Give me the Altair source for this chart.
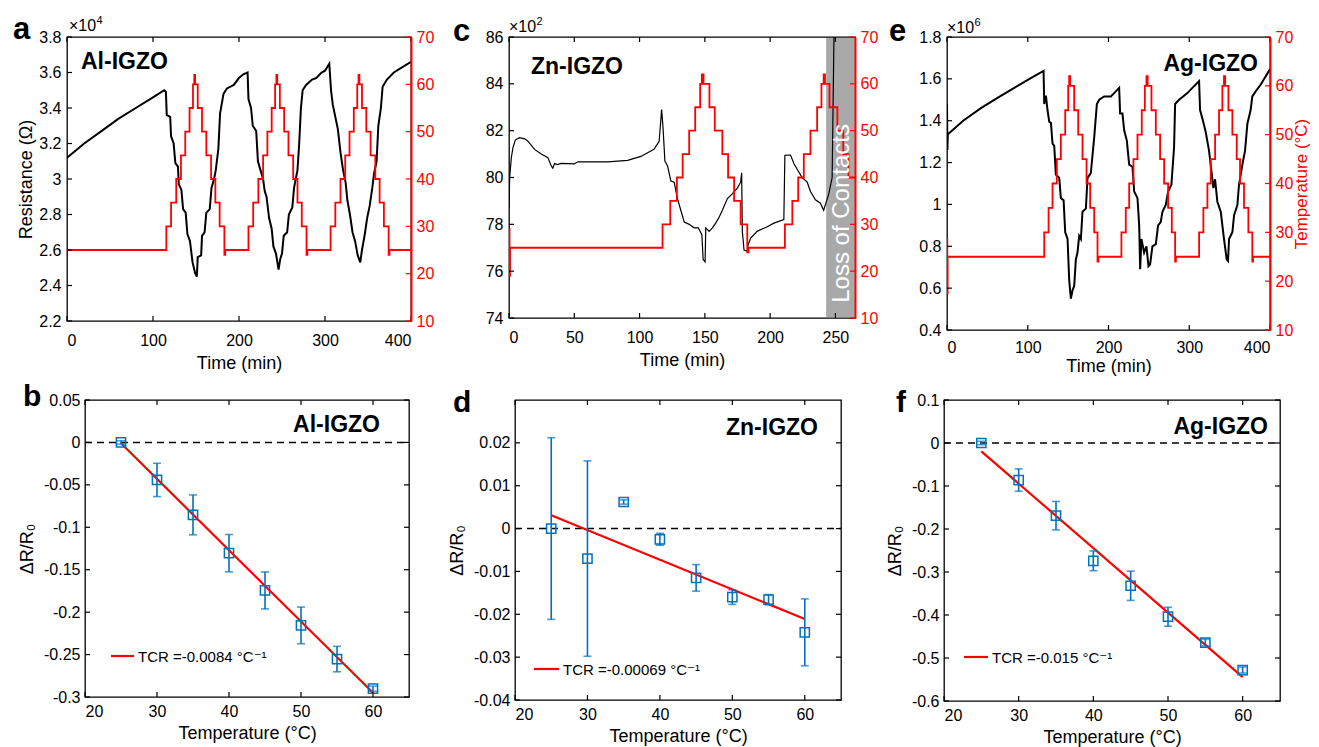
import altair as alt
import pandas as pd

FONT = "Liberation Sans, Arial, Helvetica, DejaVu Sans, sans-serif"
RED = "#ff0000"
BLUE = "#0072bd"
GREY = "#a9a9a9"
LE = "'' + datum.value"

# ---------------- top row: resistance / temperature vs time ----------------
time_ticks_a = [0, 100, 200, 300, 400]
time_ticks_c = [0, 50, 100, 150, 200, 250]
temp_ticks = [10, 20, 30, 40, 50, 60, 70]
res_ticks_a = [2.2, 2.4, 2.6, 2.8, 3, 3.2, 3.4, 3.6, 3.8]
res_ticks_c = [74, 76, 78, 80, 82, 84, 86]
res_ticks_e = [0.4, 0.6, 0.8, 1, 1.2, 1.4, 1.6, 1.8]

# panel a (Al-IGZO), resistance x1e4
a_res_t = [0, 20, 40, 60, 80, 100, 113, 115, 116, 120, 121, 124, 126, 129, 130, 133, 135, 138, 140, 143,
           146, 149, 151, 152, 156, 157, 160, 162, 166, 168, 171, 173, 176, 178, 182, 186, 194, 200, 205, 210,
           211, 214, 216, 220, 222, 225, 228, 230, 232, 235, 238, 240, 243, 246, 248, 250, 252, 256, 258, 262,
           264, 268, 270, 272, 274, 278, 285, 290, 296, 300, 305,
           307, 309, 312, 315, 318, 321, 324, 326, 329, 332, 335, 338, 341, 343, 346, 349, 352, 355, 357, 360,
           362, 365, 367, 372, 380, 390, 400]
a_res_v = [3.12, 3.20, 3.27, 3.34, 3.40, 3.46, 3.50, 3.49, 3.36, 3.35, 3.24, 3.20, 3.09, 3.07, 2.97, 2.94, 2.83, 2.81, 2.69, 2.65,
           2.53, 2.47, 2.45, 2.56, 2.57, 2.68, 2.70, 2.81, 2.83, 2.95, 3.00, 3.05, 3.17, 3.37, 3.48, 3.51, 3.53, 3.57, 3.59, 3.60,
           3.45, 3.40, 3.30, 3.27, 3.10, 3.05, 3.00, 2.93, 2.90, 2.78, 2.72, 2.62, 2.58, 2.49, 2.55, 2.58, 2.68, 2.70, 2.80, 2.84,
           2.95, 3.05, 3.20, 3.40, 3.50, 3.53, 3.56, 3.57, 3.60, 3.61, 3.65,
           3.50, 3.42, 3.35, 3.28, 3.15, 3.05, 2.98, 2.88, 2.80, 2.70, 2.65, 2.57, 2.53, 2.60, 2.68, 2.78, 2.85, 2.95, 3.03, 3.10,
           3.30, 3.40, 3.52, 3.56, 3.60, 3.63, 3.66]
a_temp_t = [0, 115.5, 121, 127, 132.5, 137.5, 142.5, 146.5, 148, 149, 152, 157, 162, 167.5, 172.5, 177.5, 183, 184,
            211, 216.5, 222.5, 228, 233, 238, 242, 243.5, 244.5, 247.5, 252.5, 257.5, 263, 268, 273, 278.5, 279.5,
            306.5, 312, 318, 323.5, 328.5, 333.5, 337.5, 339, 340, 343, 348, 353, 358.5, 363.5, 368.5, 374, 375, 400]
a_temp_v = [25, 30, 35, 40, 45, 50, 55, 60, 62, 60, 55, 50, 45, 40, 35, 30, 24, 25,
            30, 35, 40, 45, 50, 55, 60, 62, 60, 55, 50, 45, 40, 35, 30, 24, 25,
            30, 35, 40, 45, 50, 55, 60, 62, 60, 55, 50, 45, 40, 35, 30, 24, 25, 25]

# panel c (Zn-IGZO), resistance x1e2
c_res_t = [0, 0.5, 1.8, 3, 4.8, 8, 12, 14.5, 19.6, 24.7, 29.8, 32.3, 33.5, 34.9, 37, 40, 50, 52.7, 75.6, 90.9,
           101, 111, 115, 116.9, 118, 119.4, 121.4, 124, 126.5, 129, 131.6, 134.2, 138, 141.8, 145, 147.7, 148.7, 150.2, 150.7, 153.3,
           155.8, 158.3, 160.9, 163.4, 167.3, 171, 174.9, 177.4, 178.2, 178.7, 180, 182.5, 183, 185, 190, 197.8, 202.9, 210.5, 211.3, 215.6,
           218.2, 220.7, 224.5, 228.4, 230.9, 234.7, 238.5, 241, 242.4, 244.9, 247.5, 249]
c_res_v = [78.7, 80.0, 80.85, 81.27, 81.6, 81.7, 81.65, 81.55, 81.2, 81.0, 80.85, 80.5, 80.4, 80.6, 80.55, 80.6, 80.58, 80.67, 80.67, 80.73,
           80.9, 81.2, 81.55, 82.9, 82.1, 80.7, 80.5, 79.85, 79.8, 79.1, 78.6, 78.1, 78.0, 77.85, 77.85, 77.56, 76.5, 76.4, 77.85, 77.7,
           77.85, 78.05, 78.3, 78.6, 79.1, 79.3, 79.55, 79.8, 80.2, 77.7, 76.9, 76.85, 77.1, 77.4, 77.7, 77.9, 78.05, 78.2, 80.95, 80.96,
           80.6, 80.35, 80.0, 79.8, 79.4, 79.05, 78.9, 78.6, 78.85, 79.3, 80.0, 86.5]
c_temp_t = [0, 0.4, 0.8, 117.6, 123.5, 128.6, 133, 138, 142.6, 146.4, 147.7, 149, 153.5, 157.6, 163.4, 167.8, 172.4, 177.4, 182.5, 183.5,
            211.3, 217, 221.5, 225.8, 230.9, 236, 239.3, 241, 242, 245.5, 251.5, 256, 260, 265]
c_temp_v = [29, 19, 25, 30, 35, 40, 45, 50, 55, 60, 62, 60, 55, 50, 45, 40, 35, 30, 24, 25,
            30, 35, 40, 45, 50, 55, 60, 62, 60, 55, 50, 45, 40, 40]
loss_start = [242.9]
loss_end = [265]

# panel e (Ag-IGZO), resistance x1e6
e_res_t = [0, 0.5, 1, 20, 42, 62, 83.3, 100, 119.6, 120.4, 122.5, 124.5, 126.6,
           128.7, 130.7, 132.8, 134.8, 139, 141, 144.4, 146.4, 149.3, 151.3,
           153.4, 155.5, 157.5, 159.6, 161.6, 163.7, 165.8, 167.8, 172, 174,
           178.1, 182.3, 185.6, 188.5, 194.6, 202.9, 207, 213.2, 214.4, 217.3,
           219.4, 222.7, 225.6, 229.7, 231.8, 235.9, 238, 239.2, 240.8, 244.1,
           247, 249.5, 251.5, 254.4, 258.6, 261.4, 264.7, 266.8, 270.9, 273.8,
           277.9, 281.2, 282.5, 287.4, 297.7, 305.9, 312.2, 313.4, 316.3, 320.4,
           324.5, 327.4, 329.9, 332, 334.8, 339, 343, 346.4, 348, 349.3,
           353.4, 355.5, 359.6, 361.6, 365.8, 369.1, 372, 376, 378.1, 382.3, 388.5, 400]
e_res_v = [1.48, 1.26, 1.335, 1.40, 1.46, 1.508, 1.557, 1.595, 1.638, 1.48, 1.52, 1.45, 1.395,
           1.39, 1.29, 1.28, 1.143, 1.127, 1.03, 1.02, 0.867, 0.835, 0.64,
           0.55, 0.59, 0.61, 0.737, 0.77, 0.85, 0.835, 0.965, 0.98, 1.127,
           1.15, 1.32, 1.48, 1.50, 1.516, 1.516, 1.532, 1.557, 1.435, 1.435,
           1.354, 1.305, 1.19, 1.18, 1.062, 1.03, 0.9, 0.69, 0.835, 0.77,
           0.8, 0.705, 0.713, 0.8, 0.81, 0.9, 0.916, 0.965, 0.997, 1.062,
           1.094, 1.273, 1.48, 1.5, 1.532, 1.565, 1.589, 1.451, 1.41, 1.346,
           1.257, 1.16, 1.078, 1.12, 1.013, 0.965, 0.835, 0.737, 0.73, 0.835,
           0.867, 0.948, 0.997, 1.094, 1.19, 1.257, 1.386, 1.451, 1.516, 1.54, 1.573, 1.646]
e_temp_t = [0, 0.4, 0.8,
            120.4, 125.8, 130.7, 136, 141, 146.4, 150.1, 151.3, 152.5, 157.5, 162.5, 167.8, 172.8, 177.3, 182.3, 186.4, 187.5,
            216, 221.4, 225.6, 230.9, 235.9, 241.2, 245, 247, 248.5, 253.2, 258.6, 263.9, 268.9, 273.8, 278.4, 282.5, 283.5,
            312.2, 317.5, 322.5, 326.6, 332, 336.9, 341, 343, 344.5, 348.5, 353.4, 358.8, 362.9, 367.8, 373.2, 378.1, 379,
            400]
e_temp_v = [28.5, 17.5, 25,
            30, 35, 40, 45, 50, 55, 60, 62, 60, 55, 50, 45, 40, 35, 30, 24, 25,
            30, 35, 40, 45, 50, 55, 60, 62, 60, 55, 50, 45, 40, 35, 30, 24, 25,
            30, 35, 40, 45, 50, 55, 60, 62, 60, 55, 50, 45, 40, 35, 30, 24, 25,
            25]

# ---------------- bottom row: dR/R0 vs temperature ----------------
temps = [25, 30, 35, 40, 45, 50, 55, 60]
temp_axis_ticks = [20, 30, 40, 50, 60]
b_mean = [0.0, -0.0442, -0.0854, -0.1305, -0.1744, -0.2156, -0.2553, -0.2902]
b_err = [0.002, 0.0196, 0.0235, 0.022, 0.0218, 0.0216, 0.015, 0.003]
d_mean = [0.0, -0.0070, 0.0062, -0.0025, -0.0115, -0.0160, -0.0166, -0.0242]
d_err = [0.0212, 0.0228, 0.0005, 0.0014, 0.0031, 0.0017, 0.0012, 0.0078]
f_mean = [0.0, -0.0862, -0.169, -0.274, -0.332, -0.404, -0.464, -0.528]
f_err = [0.004, 0.026, 0.033, 0.023, 0.034, 0.022, 0.008, 0.007]
fit_x = [25, 60]
b_fit = [-0.001, -0.295]
d_fit = [0.0031, -0.0211]
f_fit = [-0.0195, -0.5445]
b_yticks = [-0.3, -0.25, -0.2, -0.15, -0.1, -0.05, 0, 0.05]
d_yticks = [-0.04, -0.03, -0.02, -0.01, 0, 0.01, 0.02]
f_yticks = [-0.6, -0.5, -0.4, -0.3, -0.2, -0.1, 0, 0.1]


def sc(dom):
    return alt.Scale(domain=dom, nice=False, zero=False)


def dummy():
    return pd.DataFrame({"d": [0]})


def txt(s, x, y, size, weight="normal", align="left", baseline="alphabetic", color="black"):
    return alt.Chart(dummy()).mark_text(
        text=s, font=FONT, fontSize=size, fontWeight=weight, align=align,
        baseline=baseline, color=color).encode(x=alt.value(x), y=alt.value(y))


def xtick_layers(vals, dom, H):
    df = pd.DataFrame({"v": vals})
    X = alt.X("v:Q", scale=sc(dom), axis=None)
    return [
        alt.Chart(df).mark_rule(color="black", strokeWidth=1.2).encode(x=X, y=alt.value(H), y2=alt.value(H - 5)),
        alt.Chart(df).mark_rule(color="black", strokeWidth=1.2).encode(x=X, y=alt.value(0), y2=alt.value(5)),
    ]


def ytick_layer(vals, dom, W, side, color):
    df = pd.DataFrame({"v": vals})
    Y = alt.Y("v:Q", scale=sc(dom), axis=None)
    x0, x1 = (0, 5) if side == "left" else (W - 5, W)
    return alt.Chart(df).mark_rule(color=color, strokeWidth=1.2).encode(y=Y, x=alt.value(x0), x2=alt.value(x1))


def exponent(x, y, power):
    return [txt("\u00d710", x, y, 16), txt(power, x + 27.5, y - 7, 11)]


def top_panel(W, H, xdom, xticks, res_t, res_v, rdom, rticks, lw, temp_t, temp_v,
              ytitle, rtitle, annots, pre=None, post=None, xlp=11, xtp=6):
    xax = alt.Axis(values=xticks, title="Time (min)", labelExpr=LE, labelPadding=xlp, titlePadding=xtp)
    if ytitle:
        yax = alt.Axis(values=rticks, title=ytitle, labelExpr=LE, labelPadding=6, titlePadding=3, orient="left")
    else:
        yax = alt.Axis(values=rticks, title=None, labelExpr=LE, labelPadding=6, orient="left")
    rkw = dict(orient="right", values=temp_ticks, labelExpr=LE, labelColor=RED, labelPadding=5,
               domain=True, domainColor=RED, domainWidth=2, zindex=1)
    if rtitle:
        rax = alt.Axis(title=rtitle, titleColor=RED, titleAngle=270, titleBaseline="top",
                       titlePadding=1, titleFontSize=17, **rkw)
    else:
        rax = alt.Axis(title=None, **rkw)
    black = alt.Chart(pd.DataFrame({"t": res_t, "r": res_v})).mark_line(
        color="black", strokeWidth=lw, clip=True).encode(
        x=alt.X("t:Q", scale=sc(xdom), axis=xax),
        y=alt.Y("r:Q", scale=sc(rdom), axis=yax))
    red = alt.Chart(pd.DataFrame({"t": temp_t, "T": temp_v})).mark_line(
        color=RED, strokeWidth=1.8, interpolate="step-after", clip=True).encode(
        x=alt.X("t:Q", scale=sc(xdom), axis=None),
        y=alt.Y("T:Q", scale=sc([10, 70]), axis=rax))
    layers = list(pre or []) + [black, red] + list(post or [])
    layers += xtick_layers(xticks, xdom, H)
    layers.append(ytick_layer(rticks, rdom, W, "left", "black"))
    layers.append(ytick_layer(temp_ticks, [10, 70], W, "right", RED))
    layers += annots
    return alt.layer(*layers).resolve_scale(y="independent").resolve_axis(
        x="independent", y="independent").properties(
        width=W, height=H, view=alt.ViewBackground(stroke="black", strokeWidth=1.3))


def bottom_panel(W, H, ydom, yticks, mean, err, fit, annots, lg_x0, lg_x1, lg_y, lg_text):
    xdom = [20, 65]
    lo = [m - e for m, e in zip(mean, err)]
    hi = [m + e for m, e in zip(mean, err)]
    df = pd.DataFrame({"T": temps, "m": mean, "lo": lo, "hi": hi})
    X = alt.X("T:Q", scale=sc(xdom), axis=None)
    xax = alt.Axis(values=temp_axis_ticks, title="Temperature (\u00b0C)", labelExpr=LE, labelPadding=6, titlePadding=5)
    yax = alt.Axis(values=yticks, title="\u0394R/R\u2080", labelExpr=LE, labelPadding=5, titlePadding=7)
    zero = alt.Chart(pd.DataFrame({"z": [0]})).mark_rule(
        color="black", strokeDash=[7, 5], strokeWidth=1.5).encode(
        y=alt.Y("z:Q", scale=sc(ydom), axis=None), x=alt.value(0), x2=alt.value(W))
    fitl = alt.Chart(pd.DataFrame({"T": fit_x, "f": fit})).mark_line(color=RED, strokeWidth=2.2).encode(
        x=X, y=alt.Y("f:Q", scale=sc(ydom), axis=None))
    base = alt.Chart(df)
    bars = base.mark_rule(color=BLUE, strokeWidth=1.6).encode(
        x=X, y=alt.Y("lo:Q", scale=sc(ydom), axis=None), y2="hi:Q")
    cap_lo = base.mark_tick(color=BLUE, thickness=1.6, size=8, orient="horizontal").encode(
        x=X, y=alt.Y("lo:Q", scale=sc(ydom), axis=None))
    cap_hi = base.mark_tick(color=BLUE, thickness=1.6, size=8, orient="horizontal").encode(
        x=X, y=alt.Y("hi:Q", scale=sc(ydom), axis=None))
    pts = base.mark_point(shape="square", filled=False, size=85, color=BLUE, strokeWidth=1.5, opacity=1).encode(
        x=alt.X("T:Q", scale=sc(xdom), axis=xax),
        y=alt.Y("m:Q", scale=sc(ydom), axis=yax))
    leg_line = alt.Chart(dummy()).mark_rule(color=RED, strokeWidth=2.2).encode(
        x=alt.value(lg_x0), x2=alt.value(lg_x1), y=alt.value(lg_y))
    leg_txt = txt(lg_text, lg_x1 + 4, lg_y + 1, 15, baseline="middle")
    layers = [zero, fitl, bars, cap_lo, cap_hi, pts]
    layers += xtick_layers(temp_axis_ticks, xdom, H)
    layers.append(ytick_layer(yticks, ydom, W, "left", "black"))
    layers.append(ytick_layer(yticks, ydom, W, "right", "black"))
    layers += [leg_line, leg_txt] + annots
    return alt.layer(*layers).resolve_axis(x="independent", y="independent").properties(
        width=W, height=H, view=alt.ViewBackground(stroke="black", strokeWidth=1.3))


# ---------------- panels ----------------
WA, HA = 344, 284
WC, HC = 346, 281
WE, HE = 323, 293
WB, HB = 324, 297
WD, HD = 326, 300
WF, HF = 336, 301

grey = alt.Chart(pd.DataFrame({"x0": loss_start, "x1": loss_end})).mark_rect(color=GREY).encode(
    x=alt.X("x0:Q", scale=sc([0, 265]), axis=None), x2="x1:Q", y=alt.value(1), y2=alt.value(HC - 1))
loss_txt = alt.Chart(pd.DataFrame({"x": [255], "y": [74.65]})).mark_text(
    text="Loss of Contacts", angle=270, align="left", baseline="middle", fontSize=24,
    color="white", font=FONT).encode(
    x=alt.X("x:Q", scale=sc([0, 265]), axis=None), y=alt.Y("y:Q", scale=sc([74, 86]), axis=None))

pa = top_panel(WA, HA, [0, 400], time_ticks_a, a_res_t, a_res_v, [2.2, 3.8], res_ticks_a, 2.0,
               a_temp_t, a_temp_v, "Resistance (\u03a9)", None,
               [txt("Al-IGZO", 14, 32, 23, "bold"), txt("a", -54, 2, 31, "bold")] + exponent(2, -6, "4"))
pc = top_panel(WC, HC, [0, 265], time_ticks_c, c_res_t, c_res_v, [74, 86], res_ticks_c, 1.2,
               c_temp_t, c_temp_v, None, None,
               [txt("Zn-IGZO", 22, 37, 23, "bold"), txt("c", -56, 4, 31, "bold")] + exponent(0, -5, "2"),
               pre=[grey], post=[loss_txt])
pe = top_panel(WE, HE, [0, 400], time_ticks_a, e_res_t, e_res_v, [0.4, 1.8], res_ticks_e, 2.0,
               e_temp_t, e_temp_v, None, "Temperature (\u00b0C)",
               [txt("Ag-IGZO", WE - 12, 34, 23, "bold", align="right"), txt("e", -58, 4, 31, "bold")] + exponent(0, -4, "6"),
               xlp=9, xtp=2)

pb = bottom_panel(WB, HB, [-0.3, 0.05], b_yticks, b_mean, b_err, b_fit,
                  [txt("Al-IGZO", 295, 32, 23, "bold", align="right"), txt("b", -62, 6, 30, "bold")],
                  26, 49, 256, "TCR =-0.0084 \u00b0C\u207b\u00b9")
pd_ = bottom_panel(WD, HD, [-0.04, 0.03], d_yticks, d_mean, d_err, d_fit,
                   [txt("Zn-IGZO", 303, 35, 23, "bold", align="right"), txt("d", -62, 12, 30, "bold")],
                   19, 44, 269, "TCR =-0.00069 \u00b0C\u207b\u00b9")
pf = bottom_panel(WF, HF, [-0.6, 0.1], f_yticks, f_mean, f_err, f_fit,
                  [txt("Ag-IGZO", WF - 12, 34, 23, "bold", align="right"), txt("f", -48, 12, 30, "bold")],
                  20, 44, 257, "TCR =-0.015 \u00b0C\u207b\u00b9")


def spacer(w, h, y0=None, y1=None):
    if y0 is None:
        enc = dict(x=alt.value(1), x2=alt.value(2), y=alt.value(1))
    else:
        enc = dict(x=alt.value(1), y=alt.value(y0), y2=alt.value(y1))
    return alt.Chart(dummy()).mark_rule(opacity=0, strokeWidth=1).encode(**enc).properties(width=w, height=h)


row1 = alt.hconcat(spacer(58, 10, -28, 340), pa, spacer(98, 10), pc, spacer(92, 10), pe,
                   spacing=0, bounds="flush")
row2 = alt.hconcat(spacer(76, 10, -21, 1), pb, spacer(106, 10), pd_, spacer(103, 10), pf,
                   spacing=0, bounds="flush")

chart = alt.vconcat(row1, row2, spacing=0).properties(padding=0).configure(font=FONT).configure_axis(
    grid=False, ticks=False, tickSize=0, domain=False, labelFont=FONT, titleFont=FONT,
    labelFontSize=16, titleFontSize=18, titleFontWeight="normal",
    labelColor="black", titleColor="black"
).configure_view(stroke="transparent")

chart.save("out.html", embed_options={"renderer": "svg", "actions": False})
